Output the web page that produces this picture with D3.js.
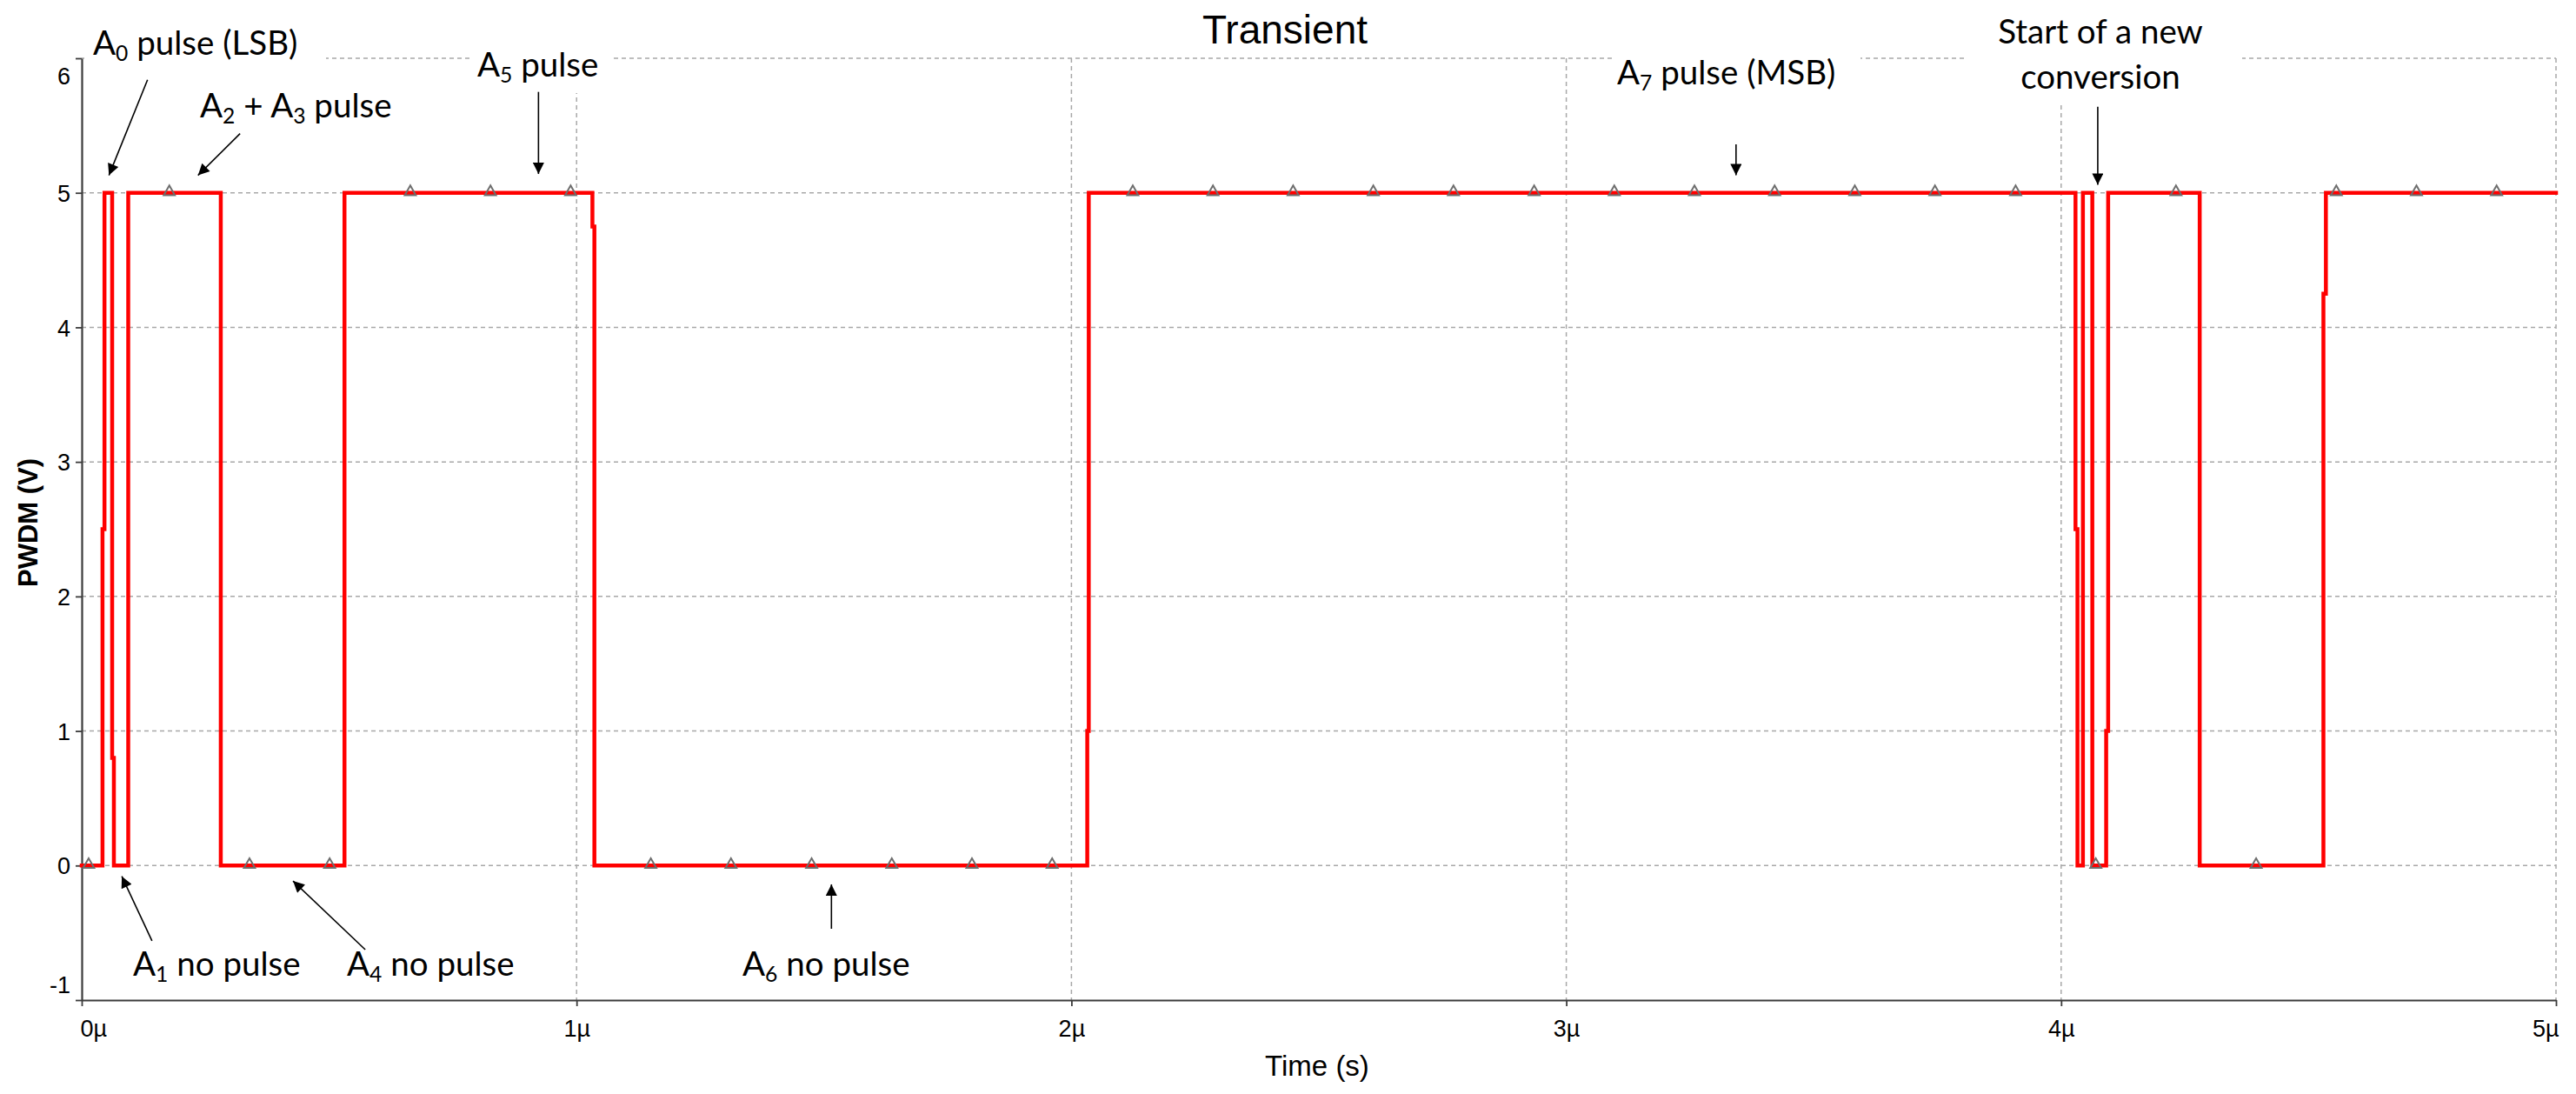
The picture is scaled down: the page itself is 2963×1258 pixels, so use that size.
<!DOCTYPE html>
<html>
<head>
<meta charset="utf-8">
<script src="https://cdn.jsdelivr.net/npm/d3@7"></script>
<style>
  body { margin: 0; background: #ffffff; }
  svg { display: block; }
</style>
</head>
<body>
<svg id="chart" width="2963" height="1258"></svg>
<script>
// ---------------- DATA ----------------
// PWDM waveform breakpoints: time in microseconds, voltage in volts
const timeUs = [0, 0.042, 0.042, 0.046, 0.046, 0.0615, 0.0615, 0.065, 0.065, 0.094, 0.094,
  0.281, 0.281, 0.531, 0.531, 1.032, 1.032, 1.036, 1.036,
  2.032, 2.032, 2.035, 2.035,
  4.029, 4.029, 4.033, 4.033, 4.044, 4.044, 4.063, 4.063, 4.091, 4.091, 4.095, 4.095,
  4.280, 4.280, 4.530, 4.530, 4.535, 4.535, 5.0];
const volts = [0, 0, 2.5, 2.5, 5, 5, 0.8, 0.8, 0, 0, 5,
  5, 0, 0, 5, 5, 4.75, 4.75, 0,
  0, 1, 1, 5,
  5, 2.5, 2.5, 0, 0, 5, 5, 0, 0, 1, 1, 5,
  5, 0, 0, 4.25, 4.25, 5, 5];
// sample markers (time, µs) drawn along the trace
const markerTimes = [0.014, 0.177, 0.339, 0.501, 0.664, 0.826, 0.988, 1.150, 1.312, 1.475,
  1.637, 1.799, 1.961, 2.124, 2.286, 2.448, 2.610, 2.772, 2.935, 3.097, 3.259, 3.421,
  3.583, 3.745, 3.908, 4.070, 4.232, 4.394, 4.556, 4.718, 4.880];

const xTickValues = [0, 1, 2, 3, 4, 5];
const xTickLabels = ["0µ", "1µ", "2µ", "3µ", "4µ", "5µ"];
const yTickValues = [-1, 0, 1, 2, 3, 4, 5, 6];
const yTickLabels = ["-1", "0", "1", "2", "3", "4", "5", "6"];
const xGridValues = [1, 2, 3, 4, 5];
const yGridValues = [0, 1, 2, 3, 4, 5, 6];

const titleText = "Transient";
const xAxisTitle = "Time (s)";
const yAxisTitle = "PWDM (V)";

// annotation texts ("_n" = subscript)
const annotationTexts = ["A_0 pulse (LSB)", "A_2 + A_3 pulse", "A_5 pulse", "A_1 no pulse",
  "A_4 no pulse", "A_6 no pulse", "A_7 pulse (MSB)", "Start of a new", "conversion"];
// arrows in data space: [time, volts]
const arrowTails = [[0.133, 5.84], [0.320, 5.44], [0.923, 5.75], [0.142, -0.56],
  [0.573, -0.625], [1.515, -0.47], [3.343, 5.36], [4.074, 5.64]];
const arrowTips = [[0.055, 5.13], [0.235, 5.13], [0.923, 5.14], [0.081, -0.08],
  [0.427, -0.115], [1.515, -0.14], [3.343, 5.13], [4.074, 5.06]];

// ---------------- LAYOUT ----------------
const W = 2963, H = 1258;
const plot = { left: 94, right: 2940, top: 67, bottom: 1150 };
const annLayout = [
  { x: 107, y: 63, anchor: "start" },
  { x: 230, y: 135, anchor: "start" },
  { x: 549, y: 88, anchor: "start" },
  { x: 153, y: 1122, anchor: "start" },
  { x: 399, y: 1122, anchor: "start" },
  { x: 854, y: 1122, anchor: "start" },
  { x: 1860, y: 97, anchor: "start" },
  { x: 2416, y: 50, anchor: "middle" },
  { x: 2416, y: 102, anchor: "middle" }
];
// white label boxes that hide grid lines behind annotations
const maskBoxes = [
  { x: 97, y: 15, w: 278, h: 62 },
  { x: 540, y: 50, w: 163, h: 57 },
  { x: 1858, y: 55, w: 282, h: 50 },
  { x: 2259, y: 0, w: 320, h: 120 }
];

const tickFont = "'Liberation Sans', Arial, sans-serif";
const annFont = "Lato, 'Noto Sans', sans-serif";
const annSize = 38.5;

// ---------------- DRAW ----------------
const svg = d3.select("#chart");
svg.append("rect").attr("width", W).attr("height", H).attr("fill", "#ffffff");

const x = d3.scaleLinear().domain([0, 5]).range([plot.left, plot.right]);
const y = d3.scaleLinear().domain([-1, 6]).range([plot.bottom, plot.top]);

// grid
const grid = svg.append("g").attr("stroke", "#a8a8a8").attr("stroke-width", 1.5)
  .attr("stroke-dasharray", "5,4").attr("fill", "none");
grid.selectAll("line.h").data(yGridValues).join("line").attr("class", "h")
  .attr("x1", plot.left).attr("x2", plot.right)
  .attr("y1", d => y(d)).attr("y2", d => y(d));
grid.selectAll("line.v").data(xGridValues).join("line").attr("class", "v")
  .attr("x1", d => x(d)).attr("x2", d => x(d))
  .attr("y1", plot.top).attr("y2", plot.bottom);

// mask boxes
svg.append("g").selectAll("rect").data(maskBoxes).join("rect")
  .attr("x", d => d.x).attr("y", d => d.y).attr("width", d => d.w).attr("height", d => d.h)
  .attr("fill", "#ffffff");

// axes
const yAxis = d3.axisLeft(y).tickValues(yTickValues).tickSize(7).tickSizeOuter(0).tickPadding(6)
  .tickFormat((d, i) => yTickLabels[i]);
const gy = svg.append("g").attr("transform", `translate(${plot.left},0)`).call(yAxis);
const xAxis = d3.axisBottom(x).tickValues(xTickValues).tickSize(7).tickSizeOuter(0).tickPadding(6)
  .tickFormat((d, i) => xTickLabels[i]);
const gx = svg.append("g").attr("transform", `translate(0,${plot.bottom})`).call(xAxis);

[gx, gy].forEach(g => {
  g.select(".domain").attr("stroke", "#3c3c3c").attr("stroke-width", 2.2);
  g.selectAll(".tick line").attr("stroke", "#3c3c3c").attr("stroke-width", 1.8);
  g.selectAll(".tick text").attr("font-family", tickFont).attr("font-size", 27).attr("fill", "#000");
});
gy.selectAll(".tick text").attr("dy", null).attr("dominant-baseline", null)
  .attr("y", d => d === 6 ? 29.5 : (d === -1 ? -9 : 9.7));
gx.selectAll(".tick text").attr("dy", null).attr("y", 42)
  .attr("text-anchor", d => d === 0 ? "start" : (d === 5 ? "end" : "middle"))
  .attr("x", d => d === 0 ? -2 : (d === 5 ? 3 : 0));

// axis titles and chart title
svg.append("text").attr("x", 1478).attr("y", 50).attr("text-anchor", "middle")
  .attr("font-family", tickFont).attr("font-size", 46).attr("fill", "#000").text(titleText);
svg.append("text").attr("x", 1515).attr("y", 1237).attr("text-anchor", "middle")
  .attr("font-family", tickFont).attr("font-size", 33).attr("fill", "#000").text(xAxisTitle);
svg.append("text").attr("transform", "translate(43,601) rotate(-90)").attr("text-anchor", "middle")
  .attr("font-family", tickFont).attr("font-size", 31).attr("font-weight", "bold")
  .attr("fill", "#000").text(yAxisTitle);

// waveform
const pts = timeUs.map((t, i) => [t, volts[i]]);
const line = d3.line().x(d => x(d[0])).y(d => y(d[1]));
svg.append("path").datum(pts).attr("d", line)
  .attr("fill", "none").attr("stroke", "#ff0000").attr("stroke-width", 4.5)
  .attr("stroke-linejoin", "miter").attr("stroke-linecap", "square");

// markers
const valueAt = t => volts[Math.max(0, d3.bisectRight(timeUs, t) - 1)];
const tri = d3.symbol().type(d3.symbolTriangle).size(70);
svg.append("g").selectAll("path").data(markerTimes).join("path")
  .attr("transform", d => `translate(${x(d)},${y(valueAt(d)) - 1})`)
  .attr("d", tri).attr("fill", "none").attr("stroke", "#6e6e6e").attr("stroke-width", 2);

// arrows
const defs = svg.append("defs");
defs.append("marker").attr("id", "ah").attr("viewBox", "0 0 10 10")
  .attr("refX", 10).attr("refY", 5).attr("markerWidth", 18).attr("markerHeight", 13)
  .attr("markerUnits", "userSpaceOnUse").attr("orient", "auto")
  .append("path").attr("d", "M0,0 L10,5 L0,10 Z").attr("fill", "#000");
svg.append("g").selectAll("line").data(arrowTails).join("line")
  .attr("x1", d => x(d[0])).attr("y1", d => y(d[1]))
  .attr("x2", (d, i) => x(arrowTips[i][0])).attr("y2", (d, i) => y(arrowTips[i][1]))
  .attr("stroke", "#000").attr("stroke-width", 1.6).attr("marker-end", "url(#ah)");

// annotation texts
const ann = svg.append("g").attr("font-family", annFont).attr("font-size", annSize).attr("fill", "#000");
annotationTexts.forEach((txt, i) => {
  const L = annLayout[i];
  const t = ann.append("text").attr("x", L.x).attr("y", L.y).attr("text-anchor", L.anchor);
  const parts = txt.split(/(_\d)/).filter(s => s.length);
  let shifted = false;
  parts.forEach(p => {
    if (p[0] === "_") {
      t.append("tspan").attr("font-size", annSize * 0.64).attr("dy", 7).text(p.slice(1));
      shifted = true;
    } else {
      const sp = t.append("tspan").text(p);
      if (shifted) { sp.attr("dy", -7); shifted = false; }
    }
  });
});
</script>
</body>
</html>
